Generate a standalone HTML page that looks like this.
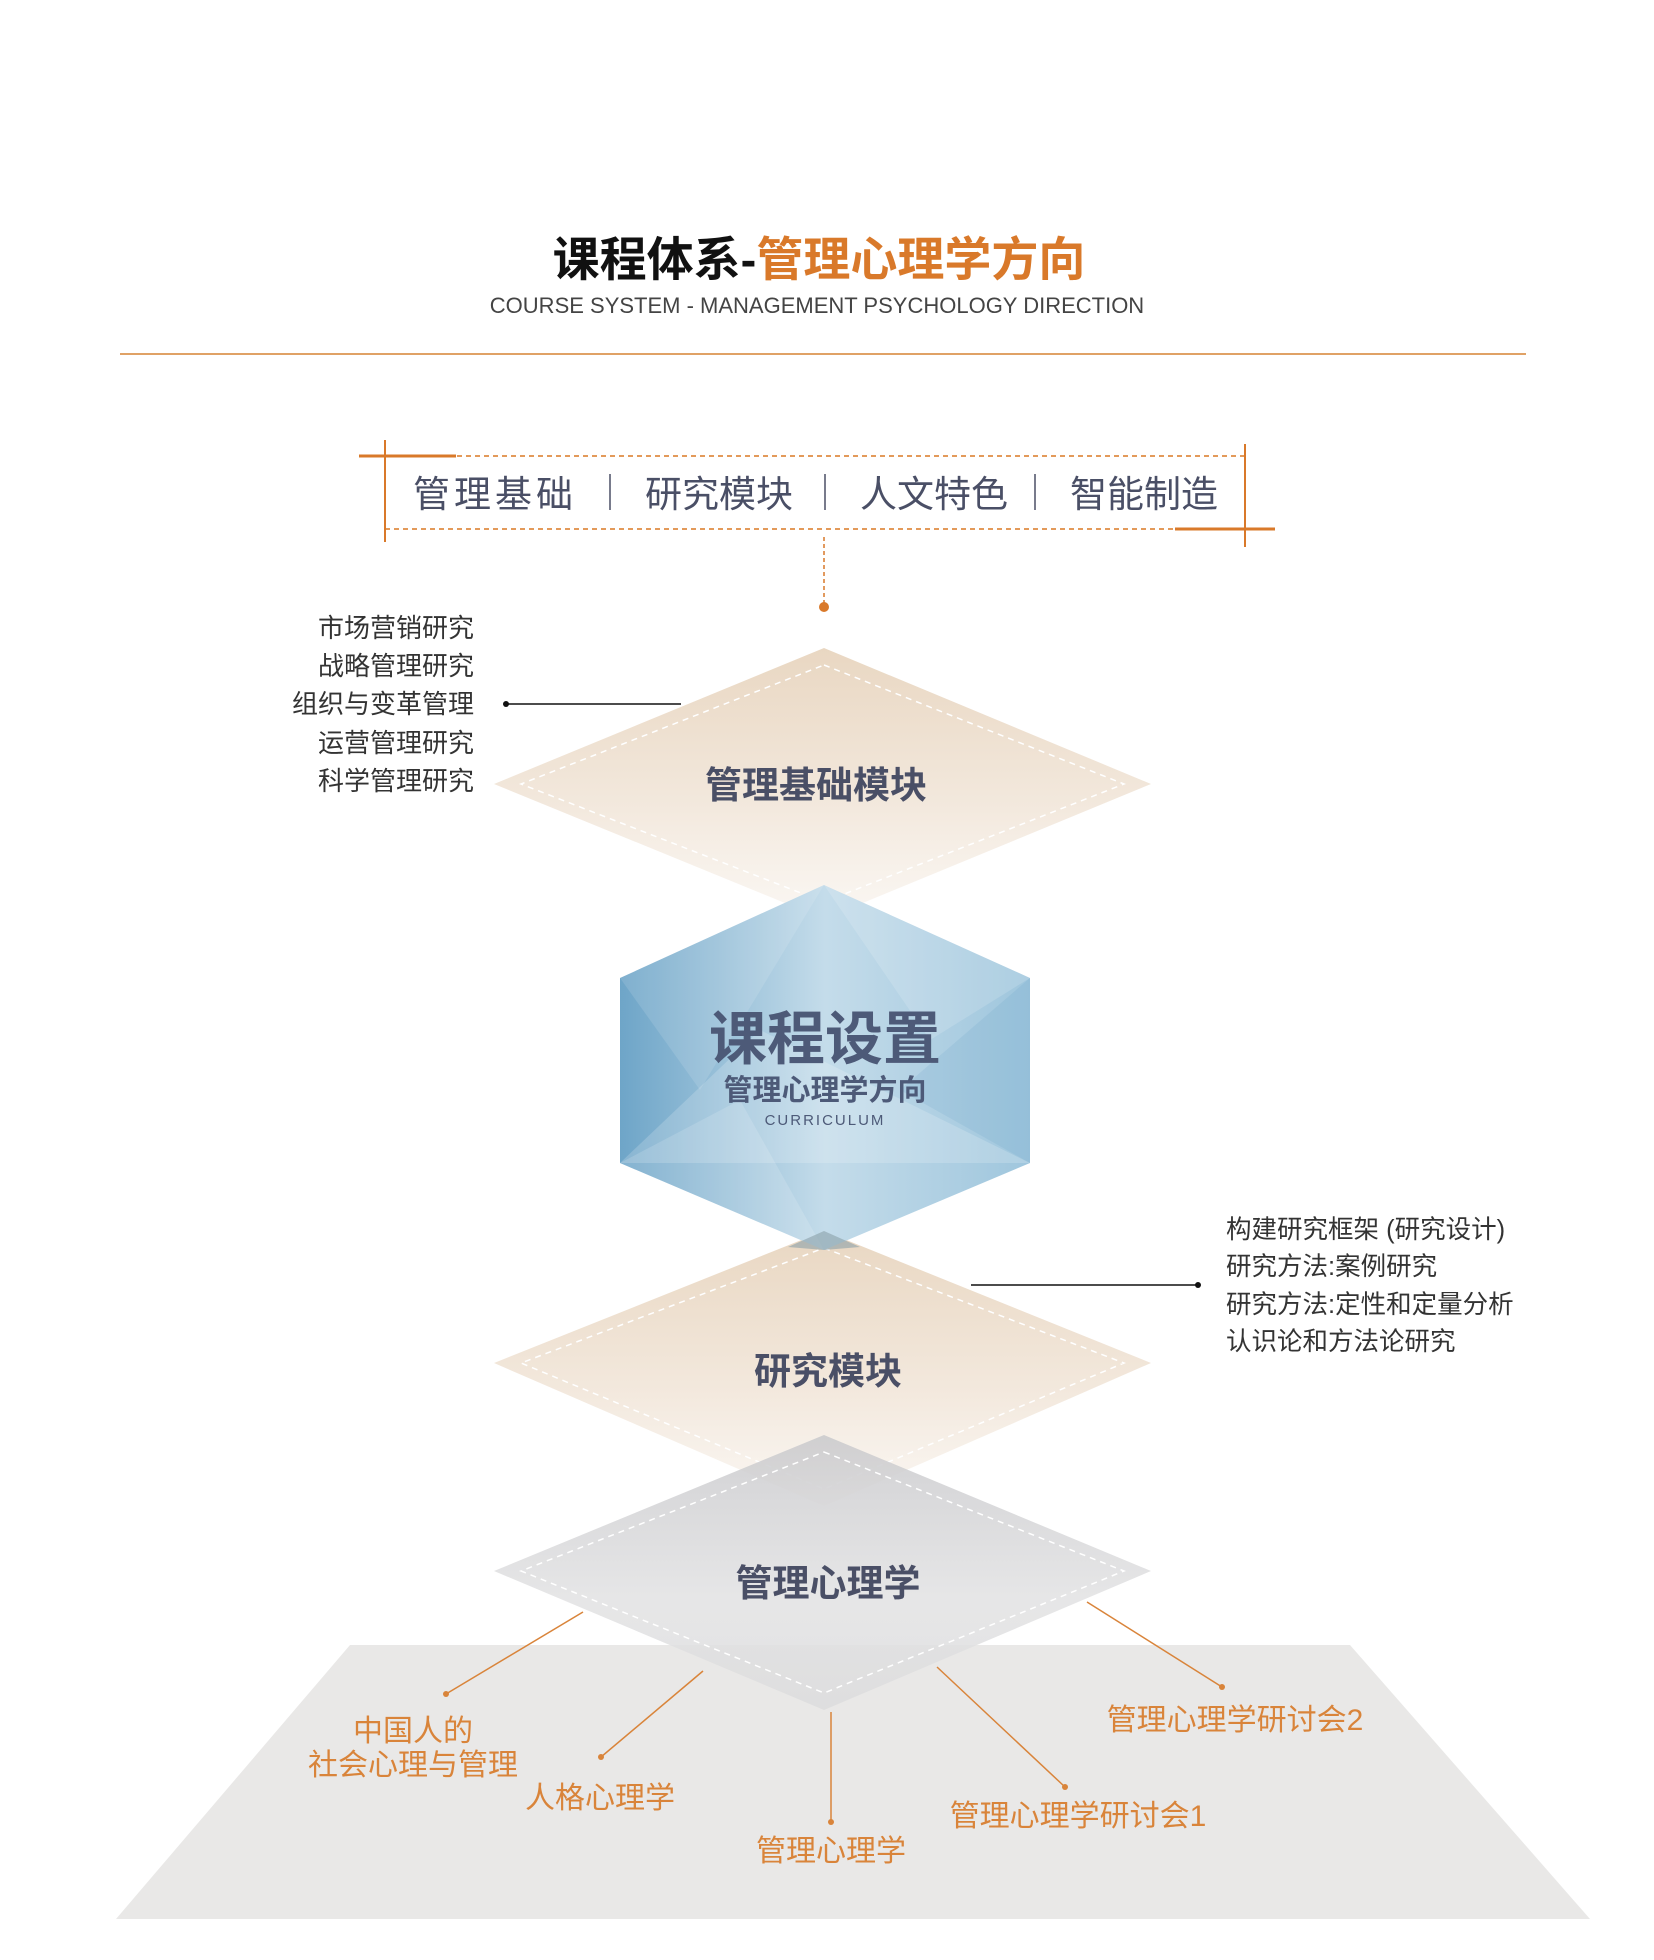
<!DOCTYPE html>
<html><head><meta charset="utf-8"><style>
html,body{margin:0;padding:0;background:#fff}
svg{display:block}
text{font-family:"Liberation Sans","Noto Sans CJK SC",sans-serif}
</style></head><body>
<svg width="1654" height="1960" viewBox="0 0 1654 1960" xmlns="http://www.w3.org/2000/svg">
<defs>
<linearGradient id="beige" x1="0" y1="0" x2="0" y2="1">
<stop offset="0" stop-color="#e9d7c2"/><stop offset="0.6" stop-color="#f3e9de"/><stop offset="1" stop-color="#f7f1ea" stop-opacity="0.6"/></linearGradient>
<linearGradient id="gray" x1="0" y1="0" x2="0" y2="1">
<stop offset="0" stop-color="#c9c9cc"/><stop offset="0.6" stop-color="#e2e2e3"/><stop offset="1" stop-color="#dcdcdd"/></linearGradient>
<linearGradient id="blue" x1="0" y1="0" x2="1" y2="0">
<stop offset="0" stop-color="#6ea5c8"/><stop offset="0.5" stop-color="#c4dcea"/><stop offset="1" stop-color="#9fc6dd"/></linearGradient>
</defs>

<text x="819" y="276" text-anchor="middle" font-size="47" font-weight="bold" font-family="'Liberation Serif','Noto Serif CJK SC',serif"><tspan fill="#111">课程体系-</tspan><tspan fill="#d9792a">管理心理学方向</tspan></text>
<text x="817" y="313" text-anchor="middle" font-size="22" fill="#444">COURSE SYSTEM - MANAGEMENT PSYCHOLOGY DIRECTION</text>
<line x1="120" y1="354" x2="1526" y2="354" stroke="#e0a266" stroke-width="2"/>

<line x1="385" y1="456" x2="1245" y2="456" stroke="#e39a5a" stroke-width="2" stroke-dasharray="5,4"/>
<line x1="385" y1="529" x2="1245" y2="529" stroke="#e39a5a" stroke-width="2" stroke-dasharray="5,4"/>
<line x1="359" y1="456" x2="456" y2="456" stroke="#d9792a" stroke-width="3"/>
<line x1="1175" y1="529" x2="1275" y2="529" stroke="#d9792a" stroke-width="3"/>
<line x1="385" y1="440" x2="385" y2="542" stroke="#d9792a" stroke-width="2"/>
<line x1="1245" y1="444" x2="1245" y2="547" stroke="#d9792a" stroke-width="2"/>
<g font-size="37" fill="#4a4f66">
<text x="495" y="507" text-anchor="middle" letter-spacing="4">管理基础</text>
<text x="719" y="507" text-anchor="middle">研究模块</text>
<text x="934" y="507" text-anchor="middle">人文特色</text>
<text x="1144" y="507" text-anchor="middle">智能制造</text>
</g>
<g stroke="#4a4f66" stroke-width="1.5">
<line x1="610" y1="474" x2="610" y2="510"/><line x1="825" y1="474" x2="825" y2="510"/><line x1="1035" y1="474" x2="1035" y2="510"/>
</g>
<line x1="824" y1="537" x2="824" y2="603" stroke="#d9792a" stroke-width="1.5" stroke-dasharray="4,3"/>
<circle cx="824" cy="607" r="5" fill="#d9792a"/>

<polygon points="824,648 1151,784 824,919 494,784" fill="url(#beige)"/>
<polygon points="824,665 1124,784 824,902 521,784" fill="none" stroke="#fff" stroke-width="1.5" stroke-dasharray="6,5"/>
<text x="816" y="798" text-anchor="middle" font-size="37" font-weight="bold" fill="#4a4f66">管理基础模块</text>
<g font-size="26" fill="#333" text-anchor="end">
<text x="474" y="637">市场营销研究</text>
<text x="474" y="675">战略管理研究</text>
<text x="474" y="713">组织与变革管理</text>
<text x="474" y="752">运营管理研究</text>
<text x="474" y="790">科学管理研究</text>
</g>
<line x1="506" y1="704" x2="681" y2="704" stroke="#111" stroke-width="1.5"/>
<circle cx="506" cy="704" r="3" fill="#111"/>

<polygon points="824,1231 1151,1363 824,1506 494,1363" fill="url(#beige)"/>
<polygon points="824,1248 1124,1363 824,1489 521,1363" fill="none" stroke="#fff" stroke-width="1.5" stroke-dasharray="6,5"/>
<text x="828" y="1384" text-anchor="middle" font-size="37" font-weight="bold" fill="#4a4f66">研究模块</text>
<g font-size="25.5" fill="#333">
<text x="1226" y="1238">构建研究框架 (研究设计)</text>
<text x="1226" y="1275">研究方法:案例研究</text>
<text x="1226" y="1313">研究方法:定性和定量分析</text>
<text x="1226" y="1350">认识论和方法论研究</text>
</g>
<line x1="971" y1="1285" x2="1198" y2="1285" stroke="#111" stroke-width="1.5"/>
<circle cx="1198" cy="1285" r="3" fill="#111"/>

<polygon points="350,1645 1350,1645 1590,1919 116,1919" fill="#e9e8e7"/>

<polygon points="824,1435 1151,1571 824,1710 494,1571" fill="url(#gray)" opacity="0.85"/>
<polygon points="824,1452 1124,1571 824,1693 521,1571" fill="none" stroke="#fff" stroke-width="1.5" stroke-dasharray="6,5"/>
<text x="828" y="1596" text-anchor="middle" font-size="37" font-weight="bold" fill="#4a4f66">管理心理学</text>

<polygon points="824,885 1030,978 1030,1163 824,1250 620,1163 620,978" fill="url(#blue)"/>
<polygon points="620,978 824,885 700,1090" fill="#fff" opacity="0.12"/>
<polygon points="824,885 1030,978 930,1040" fill="#fff" opacity="0.15"/>
<polygon points="620,1163 760,1030 1030,1163" fill="#fff" opacity="0.18"/>
<polygon points="620,1163 824,1250 740,1100" fill="#fff" opacity="0.15"/>
<polygon points="1030,978 1030,1163 900,1090" fill="#5f9bc0" opacity="0.15"/>
<polygon points="824,1231 860,1247 824,1250 788,1247" fill="#8aa0a8" opacity="0.6"/>
<text x="825" y="1059" text-anchor="middle" font-size="58" font-weight="bold" fill="#4d5a78">课程设置</text>
<text x="825" y="1100" text-anchor="middle" font-size="29" font-weight="bold" fill="#4d5a78">管理心理学方向</text>
<text x="825" y="1125" text-anchor="middle" font-size="15" fill="#4d5a78" letter-spacing="2">CURRICULUM</text>

<g stroke="#d9843a" stroke-width="1.5">
<line x1="583" y1="1612" x2="446" y2="1694"/>
<line x1="703" y1="1671" x2="601" y2="1757"/>
<line x1="831" y1="1712" x2="831" y2="1822"/>
<line x1="937" y1="1667" x2="1065" y2="1787"/>
<line x1="1087" y1="1602" x2="1222" y2="1687"/>
</g>
<g fill="#d9843a">
<circle cx="446" cy="1694" r="3"/><circle cx="601" cy="1757" r="3"/><circle cx="831" cy="1822" r="3"/><circle cx="1065" cy="1787" r="3"/><circle cx="1222" cy="1687" r="3"/>
</g>
<g font-size="30" fill="#d9843a" text-anchor="middle">
<text x="413" y="1741">中国人的</text>
<text x="413" y="1775">社会心理与管理</text>
<text x="600" y="1808">人格心理学</text>
<text x="831" y="1861">管理心理学</text>
<text x="1078" y="1826">管理心理学研讨会1</text>
<text x="1235" y="1730">管理心理学研讨会2</text>
</g>
</svg>
</body></html>
